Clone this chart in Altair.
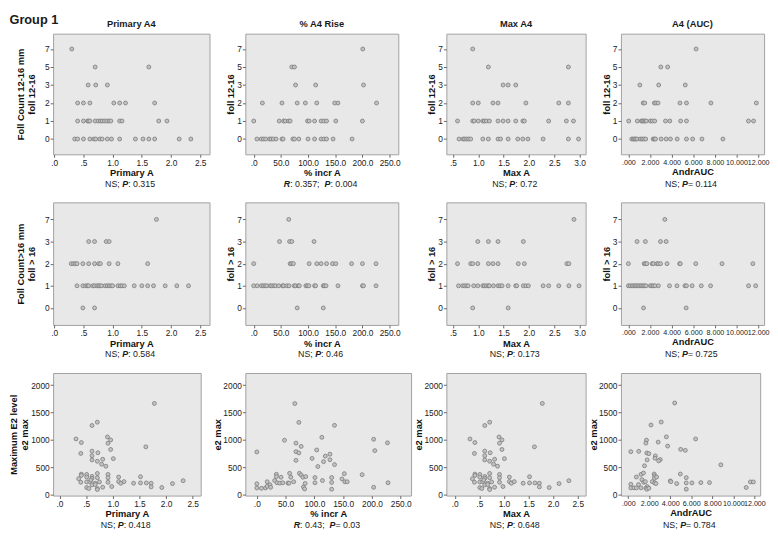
import re
import altair as alt
import pandas as pd

FONT = "Liberation Sans, Arial, sans-serif"

# ---------------- data ----------------
levels_r1 = [7, 5, 3, 2, 1, 0]
levels_r2 = [7, 3, 2, 1, 0]

# Row 1: follicles 12-16 mm ; x values listed per follicle count
r1_primary = {7: [0.30], 5: [0.70, 1.62], 3: [0.58, 0.71, 0.91],
              2: [0.40, 0.50, 0.61, 1.02, 1.12, 1.22, 1.72],
              1: [0.40, 0.50, 0.57, 0.59, 0.61, 0.70, 0.75, 0.79, 0.82, 0.86, 0.90, 0.94, 0.97, 1.12, 1.16, 1.79, 1.93],
              0: [0.35, 0.40, 0.50, 0.61, 0.68, 0.71, 0.78, 0.82, 0.91, 0.98, 1.12, 1.39, 1.52, 1.62, 1.72, 2.14, 2.34]}
r1_incr = {7: [200.6], 5: [70, 75], 3: [77, 114, 202],
           2: [16, 52, 80, 95, 116, 149, 155, 226],
           1: [0, 47, 55, 58, 64, 67, 99, 102, 112, 124, 129, 134, 151, 200],
           0: [6, 14, 18, 22, 29, 32, 36, 41, 52, 54, 72, 75, 83, 100, 112, 124, 129, 134, 146, 181]}
r1_max = {7: [0.89], 5: [1.20, 2.78], 3: [1.49, 1.59, 1.74],
          2: [0.89, 1.00, 1.29, 1.39, 1.94, 2.59, 2.78],
          1: [0.59, 0.89, 0.92, 1.00, 1.09, 1.12, 1.16, 1.22, 1.39, 1.49, 1.59, 1.74, 1.88, 1.91, 2.39, 2.74, 2.88],
          0: [0.62, 0.70, 0.73, 0.77, 0.81, 0.85, 1.09, 1.20, 1.39, 1.44, 1.59, 1.78, 1.88, 1.98, 2.28, 2.78, 2.98]}
r1_auc = {7: [6.26], 5: [3.0, 3.63], 3: [1.06, 2.8, 5.26],
          2: [1.37, 1.51, 2.4, 2.54, 2.74, 4.77, 5.37, 7.63, 11.83],
          1: [0.03, 0.83, 1.2, 1.31, 1.43, 1.54, 1.66, 2.03, 2.2, 2.43, 3.43, 3.83, 4.83, 5.37, 11.1, 11.57],
          0: [0.31, 0.46, 0.57, 0.69, 0.8, 1.09, 1.26, 1.43, 1.6, 2.29, 2.4, 2.51, 3.03, 3.49, 3.89, 4.51, 5.37, 5.94, 6.8, 8.74]}

# Row 2: follicles > 16 mm
r2_primary = {7: [1.75], 3: [0.59, 0.69, 0.89, 0.94],
              2: [0.29, 0.33, 0.36, 0.39, 0.49, 0.59, 0.69, 0.76, 0.79, 0.94, 1.09, 1.60],
              1: [0.39, 0.49, 0.54, 0.57, 0.59, 0.66, 0.69, 0.73, 0.76, 0.78, 0.81, 0.87, 0.91, 0.94, 0.97, 1.00,
                  1.09, 1.13, 1.16, 1.20, 1.37, 1.50, 1.60, 1.70, 1.90, 2.10, 2.30],
              0: [0.49, 0.69]}
r2_incr = {7: [64.5], 3: [47.5, 66, 70, 111],
           2: [0, 67, 70, 73, 102, 116, 124, 134, 145, 151, 180, 200, 225],
           1: [0, 6.5, 14, 17.6, 21, 24, 30, 33, 37, 40, 46, 53, 55, 61, 65, 74.5, 77, 82, 84, 96, 98.5, 101.5,
               112, 114, 128, 130, 133, 155, 200, 202, 225],
           0: [80, 128]}
r2_max = {7: [2.89], 3: [0.99, 1.20, 1.39, 1.89],
          2: [0.59, 0.85, 0.89, 0.99, 1.20, 1.29, 1.39, 1.79, 1.91, 2.75, 2.79],
          1: [0.61, 0.69, 0.73, 0.77, 0.80, 0.91, 0.99, 1.09, 1.12, 1.16, 1.20, 1.22, 1.30, 1.39, 1.43, 1.47,
              1.59, 1.74, 1.76, 1.89, 1.94, 1.99, 2.28, 2.39, 2.59, 2.79, 2.99],
          0: [0.89, 1.59]}
r2_auc = {7: [3.37], 3: [0.8, 1.57, 2.97, 3.49],
          2: [0.0, 1.46, 1.57, 1.71, 2.2, 2.31, 2.63, 2.77, 2.97, 3.57, 4.74, 4.8, 6.23, 8.66, 11.51],
          1: [0.0, 0.17, 0.34, 0.49, 0.63, 0.77, 0.91, 1.06, 1.2, 1.34, 1.49, 1.63, 2.03, 2.17, 2.31, 2.46,
              2.77, 3.8, 4.49, 5.23, 5.37, 5.89, 6.74, 7.6, 11.11, 11.77],
          0: [1.4, 5.34]}

# Row 3: maximum E2 level (same subjects plotted against Primary A in col 1 and col 3)
r3_primary_x = [1.78, 0.71, 0.61, 0.31, 0.41, 0.90, 0.91, 0.96, 0.96, 0.40,
                0.61, 0.61, 0.72, 1.01, 1.62, 0.61, 0.71, 0.81, 0.79, 0.87,
                0.41, 0.41, 0.51, 0.51, 0.61, 0.61, 0.71, 0.71, 0.91, 0.91,
                1.11, 0.36, 0.51, 0.40, 0.57, 0.59, 0.67, 0.75, 0.91, 1.11,
                1.15, 1.21, 1.39, 1.52, 1.52, 1.63, 1.72, 1.72, 2.12, 2.32,
                1.92, 0.51, 0.55, 0.61, 0.67, 0.71, 0.71, 0.81, 0.98]
r3_primary_e2 = [1665, 1323, 1263, 1018, 952, 1054, 940, 1000, 826, 754,
                 796, 713, 766, 659, 874, 635, 611, 647, 557, 521,
                 377, 353, 371, 323, 335, 299, 389, 311, 371, 311,
                 323, 293, 234, 228, 240, 269, 210, 234, 228, 240,
                 210, 240, 210, 216, 329, 216, 210, 144, 204, 257,
                 132, 132, 114, 180, 186, 114, 96, 138, 150]
r3_incr_x = [0, 0, 0, 8, 15, 18, 18, 23, 24, 31,
             34, 34, 35, 40, 42, 45, 48, 54, 56, 57,
             59, 64, 66, 68, 68, 68, 73, 73, 74, 77,
             77, 80, 81, 83, 84, 85, 96, 101, 101, 104,
             106, 113, 114, 116, 119, 127, 127, 130, 130, 130,
             135, 135, 148, 152, 153, 157, 183, 203, 205, 203,
             227, 228]
r3_incr_e2 = [781, 201, 124, 118, 124, 237, 154, 183, 136, 260,
              373, 331, 219, 213, 320, 219, 994, 213, 213, 391,
              320, 237, 1663, 941, 787, 627, 763, 1320, 391, 882,
              361, 320, 142, 106, 207, 331, 663, 314, 219, 817,
              515, 1047, 260, 604, 704, 740, 639, 314, 225, 101,
              1266, 550, 290, 385, 237, 237, 367, 1012, 805, 136,
              947, 219]
r3_auc_x = [4.42, 2.17, 3.14, 3.63, 3.75, 2.85, 1.74, 1.68, 0.25, 1.00,
            1.77, 1.97, 2.58, 2.55, 3.05, 2.90, 1.80, 1.55, 4.99, 5.43,
            6.41, 8.81, 11.22, 11.62, 11.90, 4.96, 4.00, 4.05, 4.61, 5.52,
            5.52, 5.52, 6.06, 6.91, 7.73, 0.25, 0.25, 0.55, 0.78, 0.78,
            1.22, 1.30, 1.45, 0.98, 1.22, 1.48, 1.63, 1.80, 1.68, 1.77,
            1.97, 2.29, 2.47, 2.52, 2.50, 2.70, 2.52, 2.64]
r3_auc_e2 = [1674, 1272, 1326, 1056, 888, 960, 996, 942, 786, 792,
             762, 750, 708, 666, 642, 618, 636, 528, 828, 810,
             1018, 546, 132, 234, 234, 378, 252, 240, 204, 312,
             216, 102, 216, 222, 222, 192, 126, 126, 126, 324,
             372, 276, 396, 186, 126, 228, 240, 150, 120, 102,
             120, 240, 378, 342, 300, 324, 216, 204]

group_label = "Group 1"
panel_titles = ["Primary A4", "% A4 Rise", "Max A4", "A4 (AUC)"]
x_titles = ["Primary A", "% incr A", "Max A", "AndrAUC"]
y_titles_first = [["Foll Count 12-16 mm", "foll 12-16"], ["Foll Count>16 mm", "foll > 16"],
                  ["Maximum E2 level", "e2 max"]]
y_titles = ["foll 12-16", "foll > 16", "e2 max"]
stats = [["NS; P : 0.315", "R : 0.357; P : 0.004", "NS; P : 0.72", "NS; P = 0.114"],
         ["NS; P : 0.584", "NS; P : 0.46", "NS; P : 0.173", "NS; P = 0.725"],
         ["NS; P : 0.418", "R : 0.43; P = 0.03", "NS; P : 0.648", "NS; P = 0.784"]]
tick_pa = [0, 0.5, 1.0, 1.5, 2.0, 2.5]
tick_incr = [0, 50, 100, 150, 200, 250]
tick_max = [0.5, 1.0, 1.5, 2.0, 2.5, 3.0]
tick_auc = [0, 2, 4, 6, 8, 10, 12]
tick_e2 = [0, 500, 1000, 1500, 2000]

# ---------------- layout / style ----------------
PT_FILL = "#c3c3c3"
PT_STROKE = "#7a7a7a"
LBL_FS = 8.5
TTL_FS = 9.5
STAT_FS = 9
LINE_H = 11
COL_GAP = 36
ROW_GAP = 49
heights = [123, 125, 125]
widths = [[159.5, 156, 142, 146], [159.5, 156, 142, 146], [150.5, 169, 142, 142]]
# y-axis label extent and title padding per row (first column, other columns)
ext = [[15, 9], [15, 9], [22, 22]]
tpad = [[2, 1], [2, 1], [2, 1]]
xdom = [[[-0.02, 2.66], [-15.4, 266], [0.37, 3.12], [-0.69, 12.55]],
        [[-0.02, 2.66], [-15.4, 266], [0.37, 3.12], [-0.69, 12.55]],
        [[-0.12, 2.65], [-20, 268], [-0.17, 2.66], [-0.69, 12.55]]]
xticks = [[tick_pa, tick_incr, tick_max, tick_auc]] * 2 + [[tick_pa, tick_incr, tick_pa, tick_auc]]
fmts = [".1f", ".1f", ".1f", ".3f"]


def count_df(d):
    return pd.DataFrame([{"x": x, "y": k} for k, xs in d.items() for x in xs])


def xy_df(xs, ys):
    return pd.DataFrame({"x": xs, "y": ys})


row_data = [[count_df(r1_primary), count_df(r1_incr), count_df(r1_max), count_df(r1_auc)],
            [count_df(r2_primary), count_df(r2_incr), count_df(r2_max), count_df(r2_auc)],
            [xy_df(r3_primary_x, r3_primary_e2), xy_df(r3_incr_x, r3_incr_e2),
             xy_df(r3_primary_x, r3_primary_e2), xy_df(r3_auc_x, r3_auc_e2)]]


def xaxis(title, domain, values, fmt, lfs):
    expr = ("datum.value < 1 ? replace(format(datum.value, '%s'), '0.', '.') : format(datum.value, '%s')"
            % (fmt, fmt))
    return alt.X("x:Q", scale=alt.Scale(domain=domain, nice=False, zero=False),
                 axis=alt.Axis(title=title, values=values, labelExpr=expr, labelFlush=False,
                               labelOverlap=False, labelFontSize=lfs, labelPadding=1,
                               titlePadding=1))


def char_w(ch):
    if ch.isdigit():
        return 0.556
    if ch in " .:;":
        return 0.278
    if ch == "=":
        return 0.584
    if ch in "NR":
        return 0.722
    if ch in "SP":
        return 0.667
    return 0.55


def text_layer(t, x, y, align="left", baseline="middle", size=STAT_FS, weight="normal",
               style="normal", font=FONT):
    return alt.Chart(pd.DataFrame({"t": [t]})).mark_text(
        align=align, baseline=baseline, font=font, fontSize=size, fontWeight=weight,
        fontStyle=style, color="#1a1a1a").encode(x=alt.value(x), y=alt.value(y), text="t:N")


def stat_layers(text, w, h):
    parts = [p for p in re.split(r"(\bR\b|\bP\b)", text) if p != ""]
    pw = [sum(char_w(c) for c in p) * STAT_FS for p in parts]
    x0 = w / 2 - sum(pw) / 2
    layers = []
    for p, wd in zip(parts, pw):
        bi = p in ("R", "P")
        layers.append(text_layer(p, x0, h + 30, weight="bold" if bi else "normal",
                                 style="italic" if bi else "normal"))
        x0 += wd
    return layers


def axis_width(r, c):
    ci = 0 if c == 0 else 1
    return ext[r][ci] + tpad[r][ci] + TTL_FS + (LINE_H if c == 0 else 0)


LEFT_EXT = max(axis_width(r, 0) for r in range(3))


def make_panel(r, c):
    w = widths[r][c]
    h = heights[r]
    ci = 0 if c == 0 else 1
    ytitle = y_titles_first[r] if c == 0 else y_titles[r]
    common = dict(title=ytitle, titleLineHeight=LINE_H, minExtent=ext[r][ci], maxExtent=ext[r][ci],
                  titlePadding=tpad[r][ci], labelPadding=1, labelFontSize=LBL_FS)
    if r < 2:
        lv = levels_r1 if r == 0 else levels_r2
        yenc = alt.Y("y:O", sort=lv,
                     scale=alt.Scale(type="point", domain=lv, padding=0.85 if r == 0 else 0.77),
                     axis=alt.Axis(labelAngle=0, **common))
    else:
        yenc = alt.Y("y:Q", scale=alt.Scale(domain=[-15, 2220], nice=False, zero=False),
                     axis=alt.Axis(values=tick_e2, format="d", **common))
    xenc = xaxis(x_titles[c], xdom[r][c], xticks[r][c], fmts[c], 7.3 if c == 3 else LBL_FS)
    pts = alt.Chart(row_data[r][c]).mark_circle(
        size=16, color=PT_FILL, opacity=1, stroke=PT_STROKE, strokeWidth=0.8
    ).encode(x=xenc, y=yenc)
    layers = [pts] + stat_layers(stats[r][c], w, h)
    if r == 0:
        layers.append(text_layer(panel_titles[c], w / 2, -10, align="center", size=TTL_FS,
                                 weight="bold"))
        if c == 0:
            layers.append(text_layer(group_label, -LEFT_EXT, -20, baseline="top", size=13,
                                     weight="bold"))
    return alt.layer(*layers).properties(width=w, height=h)


panels = [make_panel(r, c) for r in range(3) for c in range(4)]

chart = alt.concat(*panels, columns=4, bounds="flush", align="none",
                   spacing={"row": ROW_GAP, "column": COL_GAP}).properties(
    padding={"left": 0, "top": 0, "right": 0, "bottom": 0}
).configure_view(
    fill="#e8e8e8", stroke="#a0a0a0", strokeWidth=1
).configure_axis(
    grid=False, domain=False, tickColor="#666", tickSize=3,
    labelFont=FONT, labelColor="#222",
    titleFont=FONT, titleFontSize=TTL_FS, titleFontWeight="bold", titleColor="#111"
)

chart.save("out.html", embed_options={"renderer": "svg", "actions": False})
